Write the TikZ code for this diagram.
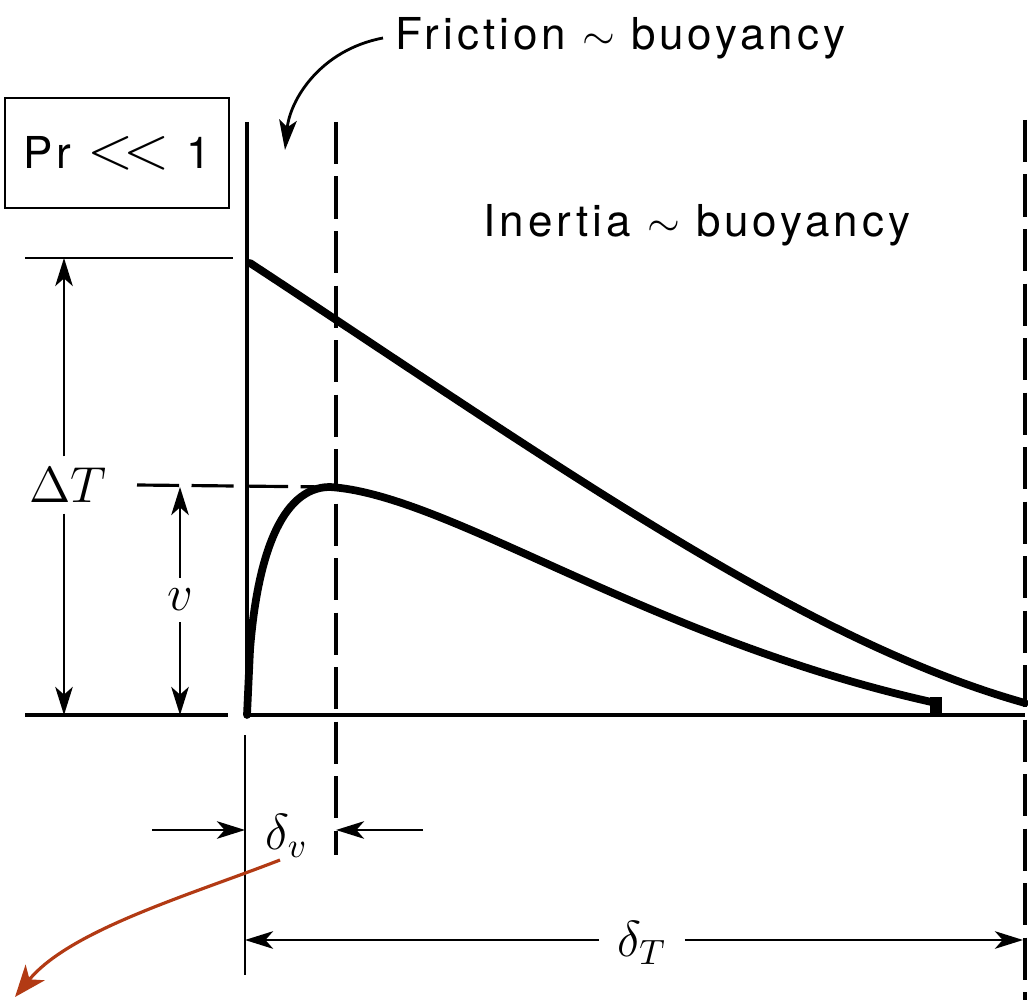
\documentclass[tikz,border=0pt]{standalone}
\usepackage{fontspec}
\usetikzlibrary{arrows.meta}
\newfontfamily\labelfont{TeX Gyre Heros}[LetterSpace=9]
\definecolor{annot}{RGB}{178,58,20}

\begin{document}
\begin{tikzpicture}[
    x=0.01cm, y=-0.01cm,
    profile/.style={line width=2.2pt, line cap=round},
    wall/.style={line width=1.4pt},
    thin/.style={line width=0.7pt},
    dashline/.style={line width=0.9pt, dash pattern=on 12pt off 3.5pt},
    dimarrow/.style={line width=0.6pt, -{Stealth[length=8pt,width=5pt,inset=2.2pt]}},
    lbl/.style={font=\labelfont\fontsize{12.5}{15}\selectfont, inner sep=0pt},
    mlbl/.style={font=\fontsize{14}{16}\selectfont, inner sep=3pt}
]
\useasboundingbox (0,0) rectangle (1028,1001);

% wall, edges of the layers
\coordinate (wtop) at (247,122);
\coordinate (w0) at (247,715);
\coordinate (t0) at (1025,715);
\coordinate (wlow) at (245,735);
\coordinate (wend) at (245,975);
\coordinate (vtop) at (336,122);
\coordinate (vend) at (336,855);
\coordinate (ttop) at (1025,120);
\coordinate (tend) at (1025,1000);

\draw[wall] (wtop) -- (w0) -- (t0);
\draw[thin] (wlow) -- (wend);
\draw[dashline] (vtop) -- (vend);
\draw[dashline] (ttop) -- (tend);

% reference levels on the left
\coordinate (lTa) at (25,258);
\coordinate (lTb) at (233,258);
\coordinate (l0a) at (25,715);
\coordinate (l0b) at (228,715);
\draw[thin] (lTa) -- (lTb);
\draw[line width=1pt] (l0a) -- (l0b);

% temperature and velocity profiles
\coordinate (Tw) at (250,263);
\coordinate (Tinf) at (1025,703);
\coordinate (vmax) at (330,487);
\coordinate (vtail) at (936,703);
\draw[profile] (Tw) .. controls (550,460) and (800,640) .. (Tinf);
\draw[profile] (w0) -- (250,650) .. controls (257,560) and (280,487) .. (vmax)
    .. controls (450,495) and (650,640) .. (vtail);
\fill (930,697) rectangle (942,714);

% level of the velocity peak
\coordinate (vlev) at (137,485);
\draw[dashline] (vlev) -- (vmax);

% Delta T
\node[mlbl] (dT) at (68,485) {$\Delta T$};
\coordinate (dTa) at (64,258);
\coordinate (dTb) at (64,715);
\draw[dimarrow] (dT.north -| dTa) -- (dTa);
\draw[dimarrow] (dT.south -| dTb) -- (dTb);

% v
\node[mlbl] (vl) at (180,600) {$v$};
\coordinate (va) at (180,487);
\coordinate (vb) at (180,715);
\draw[dimarrow] (vl.north) -- (va);
\draw[dimarrow] (vl.south) -- (vb);

% delta_v
\node[mlbl] (dv) at (287,836) {$\delta_v$};
\coordinate (dvl) at (152,830);
\coordinate (dvr) at (423,830);
\draw[dimarrow] (dvl) -- (dvl -| wlow);
\draw[dimarrow] (dvr) -- (dvr -| vtop);

% delta_T
\node[mlbl, inner sep=5pt] (dTT) at (642,943) {$\delta_T$};
\coordinate (dTl) at (245,940);
\coordinate (dTr) at (1023,940);
\draw[dimarrow] (dTT.west |- dTl) -- (dTl);
\draw[dimarrow] (dTT.east |- dTr) -- (dTr);

% labels
\node[draw, thin, lbl, minimum width=63.7pt, minimum height=31.3pt] (pr) at (117,153)
    {Pr {\fontsize{16}{16}\selectfont$<\!<$} 1};
\node[lbl, anchor=base west] (fric) at (395,50) {Friction $\sim$ buoyancy};
\node[lbl, anchor=base west] (iner) at (483,237) {Inertia $\sim$ buoyancy};

% arrow to the friction layer
\coordinate (fs) at (383,38);
\coordinate (fe) at (285,150);
\draw[line width=0.8pt, -{Stealth[length=8.5pt,width=5pt,inset=2pt]}]
    (fs) .. controls (320,50) and (290,100) .. (fe);

% red annotation arrow
\coordinate (rs) at (280,860);
\coordinate (re) at (15,997);
\draw[annot, line width=0.9pt, -{Stealth[length=9pt,width=7pt,inset=2.5pt]}]
    (rs) .. controls (190,895) and (70,930) .. (re);

\end{tikzpicture}
\end{document}
